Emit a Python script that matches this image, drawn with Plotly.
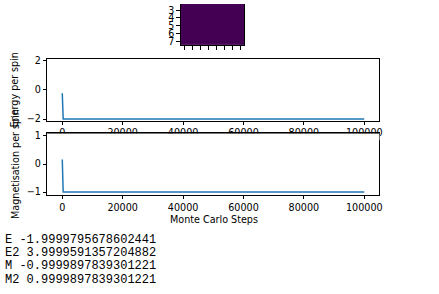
import plotly.graph_objects as go

# ---- data ----
lattice = [[-1] * 8 for _ in range(8)]          # 8x8 spin lattice, all spins down
lattice_ticks = [0, 1, 2, 3, 4, 5, 6, 7]

steps_e = [0, 300, 100000]
energy = [-0.25, -2.0, -2.0]

steps_m = [0, 60, 120, 180, 240, 300, 100000]
magnet = [0.16, -0.2, -0.45, -0.65, -0.85, -1.0, -1.0]

x_tickvals = [0, 20000, 40000, 60000, 80000, 100000]
x_ticktext = ["0", "20000", "40000", "60000", "80000", "100000"]
e_tickvals = [-2, 0, 2]
m_tickvals = [-1, 0, 1]
tick_labels_neg = {-2: "\u22122", -1: "\u22121", 0: "0", 1: "1", 2: "2"}

printed = [
    "E -1.9999795678602441",
    "E2 3.9999591357204882",
    "M -0.9999897839301221",
    "M2 0.9999897839301221",
]

W, H = 439, 294
def px(x):
    return x / W
def py(y):
    return 1 - y / H

BLUE = "#1f77b4"
FONT = dict(family="DejaVu Sans", size=9.6, color="black")

fig = go.Figure()

fig.add_trace(go.Heatmap(z=lattice, x=lattice_ticks, y=lattice_ticks,
                         colorscale="Viridis", zmin=-1, zmax=1, showscale=False,
                         xaxis="x3", yaxis="y3", hoverinfo="skip"))
fig.add_trace(go.Scatter(x=steps_e, y=energy, mode="lines",
                         line=dict(color=BLUE, width=1.5), xaxis="x", yaxis="y"))
fig.add_trace(go.Scatter(x=steps_m, y=magnet, mode="lines",
                         line=dict(color=BLUE, width=1.5), xaxis="x2", yaxis="y2"))

axis_common = dict(showline=True, linecolor="black", linewidth=0.8, ticks="outside",
                   ticklen=3.5, tickwidth=0.8, tickcolor="black", showgrid=False,
                   zeroline=False, tickfont=FONT)

xdom = [px(47.5), px(382)]
fig.update_layout(
    width=W, height=H, margin=dict(l=0, r=0, t=0, b=0),
    paper_bgcolor="white", plot_bgcolor="white", showlegend=False,
    xaxis=dict(domain=xdom, range=[-5000, 105000], tickvals=x_tickvals,
               ticktext=x_ticktext, mirror=True, anchor="y", **axis_common),
    yaxis=dict(domain=[py(119.8), py(56.2)], range=[-2.1, 2.1], tickvals=e_tickvals,
               ticktext=[tick_labels_neg[v] for v in e_tickvals], mirror=True,
               anchor="x", **axis_common),
    xaxis2=dict(domain=xdom, range=[-5000, 105000], tickvals=x_tickvals,
                ticktext=x_ticktext, mirror=True, anchor="y2", **axis_common),
    yaxis2=dict(domain=[py(196.2), py(132.8)], range=[-1.1, 1.1], tickvals=m_tickvals,
                ticktext=[tick_labels_neg[v] for v in m_tickvals], mirror=True,
                anchor="x2", **axis_common),
    xaxis3=dict(domain=[px(182), px(246)], range=[-0.5, 7.5], tickvals=lattice_ticks,
                showticklabels=False, mirror=False, anchor="y3", **axis_common),
    yaxis3=dict(domain=[py(42.3), 1], range=[7.5, 7.5 - 42.3 / 8], tickvals=lattice_ticks,
                mirror=True, anchor="x3", **axis_common),
)

# cover the energy tick labels where the lower axes box hides them, then redraw its top spine
fig.add_shape(type="rect", xref="paper", yref="paper", layer="above",
              x0=px(47.5), x1=px(382), y0=py(140), y1=py(132.8),
              fillcolor="white", line=dict(width=0))
fig.add_shape(type="line", xref="paper", yref="paper", layer="above",
              x0=px(47.5), x1=px(382), y0=py(132.8), y1=py(132.8),
              line=dict(color="black", width=0.8))

# axis titles
fig.add_annotation(text="Energy per spin", xref="paper", yref="paper",
                   x=px(15), y=py(88), textangle=-90, showarrow=False, font=FONT,
                   xanchor="center", yanchor="middle")
fig.add_annotation(text="Magnetisation per spin", xref="paper", yref="paper",
                   x=px(15), y=py(164.5), textangle=-90, showarrow=False, font=FONT,
                   xanchor="center", yanchor="middle")
fig.add_annotation(text="Monte Carlo Steps", xref="paper", yref="paper",
                   x=px(215), y=py(222), showarrow=False, font=FONT,
                   xanchor="center", yanchor="middle")

# printed output below the figure
for i, line in enumerate(printed):
    fig.add_annotation(text=line, xref="paper", yref="paper",
                       x=px(3), y=py(242.5 + 13.6 * i), showarrow=False,
                       xanchor="left", yanchor="middle",
                       font=dict(family="Liberation Mono", size=12, color="black"))

fig.write_html("out.html")
